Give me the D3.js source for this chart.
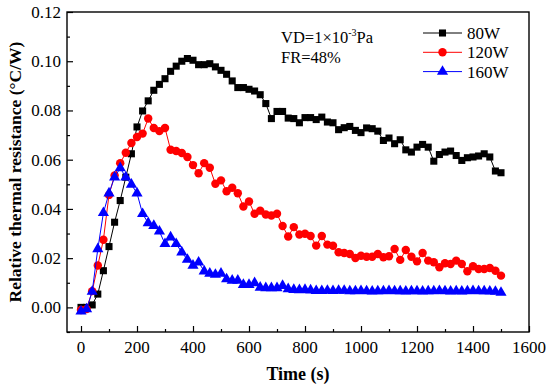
<!DOCTYPE html>
<html>
<head>
<meta charset="utf-8">
<script src="https://cdn.jsdelivr.net/npm/d3@7"></script>
<style>
  html, body { margin: 0; padding: 0; background: #fff; }
  svg text { font-family: "Liberation Serif", "Times New Roman", serif; }
</style>
</head>
<body>
<div id="chartArea"></div>
<script>
// time axis, 20 s step
const times = d3.range(0, 1501, 20);

const r80 = [0.0000, 0.0000, 0.0010, 0.0054, 0.0149, 0.0247, 0.0346, 0.0434, 0.0529, 0.0624,
  0.0733, 0.0798, 0.0839, 0.0882, 0.0906, 0.0929, 0.0959, 0.0980, 0.1000, 0.1011,
  0.1004, 0.0986, 0.0986, 0.0990, 0.0977, 0.0963, 0.0947, 0.0920, 0.0893, 0.0893,
  0.0886, 0.0879, 0.0864, 0.0828, 0.0767, 0.0796, 0.0796, 0.0769, 0.0767, 0.0750,
  0.0771, 0.0771, 0.0763, 0.0773, 0.0753, 0.0750, 0.0722, 0.0730, 0.0735, 0.0719,
  0.0710, 0.0729, 0.0726, 0.0716, 0.0678, 0.0688, 0.0665, 0.0681, 0.0640, 0.0631,
  0.0651, 0.0662, 0.0651, 0.0594, 0.0621, 0.0631, 0.0635, 0.0617, 0.0597, 0.0608,
  0.0611, 0.0615, 0.0624, 0.0611, 0.0554, 0.0547];

const r120 = [-0.0011, -0.0007, 0.0066, 0.0170, 0.0275, 0.0457, 0.0536, 0.0586, 0.0628, 0.0668,
  0.0692, 0.0706, 0.0767, 0.0729, 0.0716, 0.0729, 0.0640, 0.0635, 0.0627, 0.0611,
  0.0578, 0.0545, 0.0586, 0.0567, 0.0502, 0.0516, 0.0472, 0.0486, 0.0464, 0.0410,
  0.0430, 0.0380, 0.0393, 0.0377, 0.0373, 0.0380, 0.0331, 0.0288, 0.0326, 0.0296,
  0.0299, 0.0290, 0.0251, 0.0290, 0.0255, 0.0250, 0.0224, 0.0221, 0.0217, 0.0201,
  0.0210, 0.0206, 0.0206, 0.0217, 0.0204, 0.0208, 0.0237, 0.0193, 0.0233, 0.0206,
  0.0187, 0.0221, 0.0190, 0.0183, 0.0163, 0.0179, 0.0176, 0.0190, 0.0176, 0.0147,
  0.0167, 0.0156, 0.0156, 0.0160, 0.0149, 0.0129];

const r160 = [-0.0016, -0.0007, 0.0064, 0.0237, 0.0384, 0.0464, 0.0529, 0.0566, 0.0529, 0.0499,
  0.0464, 0.0380, 0.0343, 0.0332, 0.0309, 0.0258, 0.0285, 0.0258, 0.0224, 0.0194,
  0.0170, 0.0183, 0.0147, 0.0138, 0.0133, 0.0138, 0.0115, 0.0109, 0.0109, 0.0092,
  0.0092, 0.0099, 0.0081, 0.0079, 0.0079, 0.0079, 0.0088, 0.0075, 0.0072, 0.0071,
  0.0072, 0.0070, 0.0067, 0.0067, 0.0068, 0.0067, 0.0068, 0.0068, 0.0066, 0.0066,
  0.0067, 0.0066, 0.0065, 0.0066, 0.0066, 0.0067, 0.0066, 0.0066, 0.0065, 0.0066,
  0.0066, 0.0065, 0.0066, 0.0066, 0.0067, 0.0066, 0.0065, 0.0066, 0.0065, 0.0066,
  0.0067, 0.0066, 0.0066, 0.0065, 0.0064, 0.0060];

const seriesNames = ["80W", "120W", "160W"];
const seriesColors = ["#000000", "#ff0000", "#0000ff"];
const seriesShapes = [d3.symbolSquare, d3.symbolCircle, d3.symbolTriangle];
const xTicks = [0, 200, 400, 600, 800, 1000, 1200, 1400, 1600];
const yTicks = [0.00, 0.02, 0.04, 0.06, 0.08, 0.10, 0.12];

const width = 550, height = 388;
const plotLeft = 67, plotRight = 529, plotTop = 12, plotBottom = 332;

const svg = d3.select("#chartArea")
            .append("svg")
            .attr("width", width)
            .attr("height", height);

const xScale = d3.scaleLinear().domain([-50, 1600]).range([plotLeft, plotRight]);
const yScale = d3.scaleLinear().domain([-0.01, 0.12]).range([plotBottom, plotTop]);

// minor ticks first, then major ticks with labels (ticks point inward)
svg.append("g")
    .attr("transform", `translate(0,${plotBottom})`)
    .call(d3.axisTop(xScale).tickValues(d3.range(100, 1600, 200)).tickSize(3).tickFormat(""))
    .call(g => g.select(".domain").remove());
svg.append("g")
    .attr("transform", `translate(0,${plotBottom})`)
    .call(d3.axisTop(xScale).tickValues(xTicks).tickSize(6).tickFormat(""))
    .call(g => g.select(".domain").remove());
svg.append("g")
    .selectAll("text")
    .data(xTicks)
    .join("text")
    .attr("x", d => xScale(d))
    .attr("y", plotBottom + 21)
    .attr("text-anchor", "middle")
    .style("font-size", "17px")
    .text(d => d);

svg.append("g")
    .attr("transform", `translate(${plotLeft},0)`)
    .call(d3.axisRight(yScale).tickValues(d3.range(-0.01, 0.12, 0.02)).tickSize(3).tickFormat(""))
    .call(g => g.select(".domain").remove());
svg.append("g")
    .attr("transform", `translate(${plotLeft},0)`)
    .call(d3.axisRight(yScale).tickValues(yTicks).tickSize(6).tickFormat(""))
    .call(g => g.select(".domain").remove());
svg.append("g")
    .selectAll("text")
    .data(yTicks)
    .join("text")
    .attr("x", plotLeft - 6)
    .attr("y", d => yScale(d) + 6)
    .attr("text-anchor", "end")
    .style("font-size", "17px")
    .text(d => d3.format(".2f")(d));

svg.selectAll(".tick line").attr("stroke", "#000").attr("stroke-width", 1.2);

// frame
svg.append("rect")
    .attr("x", plotLeft)
    .attr("y", plotTop)
    .attr("width", plotRight - plotLeft)
    .attr("height", plotBottom - plotTop)
    .attr("fill", "none")
    .attr("stroke", "#000")
    .attr("stroke-width", 1.4);

// axis titles
svg.append("text")
    .attr("x", (plotLeft + plotRight) / 2)
    .attr("y", 380)
    .attr("text-anchor", "middle")
    .style("font-size", "18px")
    .style("font-weight", "bold")
    .text("Time (s)");
svg.append("text")
    .attr("transform", `translate(21,${(plotTop + plotBottom) / 2}) rotate(-90)`)
    .attr("text-anchor", "middle")
    .style("font-size", "17.5px")
    .style("font-weight", "bold")
    .text("Relative thermal resistance (°C/W)");

const line = d3.line()
            .x(d => xScale(d.t))
            .y(d => yScale(d.v));

const symbolSizes = [50, 56, 54];
const allSeries = [r80, r120, r160];
allSeries.forEach((vals, i) => {
    const pts = vals.map((v, j) => ({t: times[j], v: v}));
    svg.append("path")
        .attr("d", line(pts))
        .attr("fill", "none")
        .attr("stroke", seriesColors[i])
        .attr("stroke-width", 1);
    svg.append("g")
        .selectAll("path")
        .data(pts)
        .join("path")
        .attr("transform", d => `translate(${xScale(d.t)},${yScale(d.v)})`)
        .attr("d", d3.symbol().type(seriesShapes[i]).size(symbolSizes[i]))
        .attr("fill", seriesColors[i]);
});

// legend
const legend = svg.append("g");
seriesNames.forEach((name, i) => {
    const ly = 33 + i * 19.3;
    legend.append("line")
        .attr("x1", 423).attr("x2", 462)
        .attr("y1", ly).attr("y2", ly)
        .attr("stroke", seriesColors[i])
        .attr("stroke-width", 1);
    legend.append("path")
        .attr("transform", `translate(442.5,${ly})`)
        .attr("d", d3.symbol().type(seriesShapes[i]).size(symbolSizes[i]))
        .attr("fill", seriesColors[i]);
    legend.append("text")
        .attr("x", 467)
        .attr("y", ly + 6)
        .style("font-size", "17px")
        .text(name);
});

// annotation
const note = svg.append("text")
            .attr("x", 281)
            .attr("y", 43)
            .style("font-size", "16.5px");
note.append("tspan").text("VD=1×10");
note.append("tspan").attr("dy", -7).style("font-size", "10px").text("-3");
note.append("tspan").attr("dy", 7).text("Pa");
svg.append("text")
    .attr("x", 281)
    .attr("y", 63)
    .style("font-size", "16.5px")
    .text("FR=48%");
</script>
</body>
</html>
